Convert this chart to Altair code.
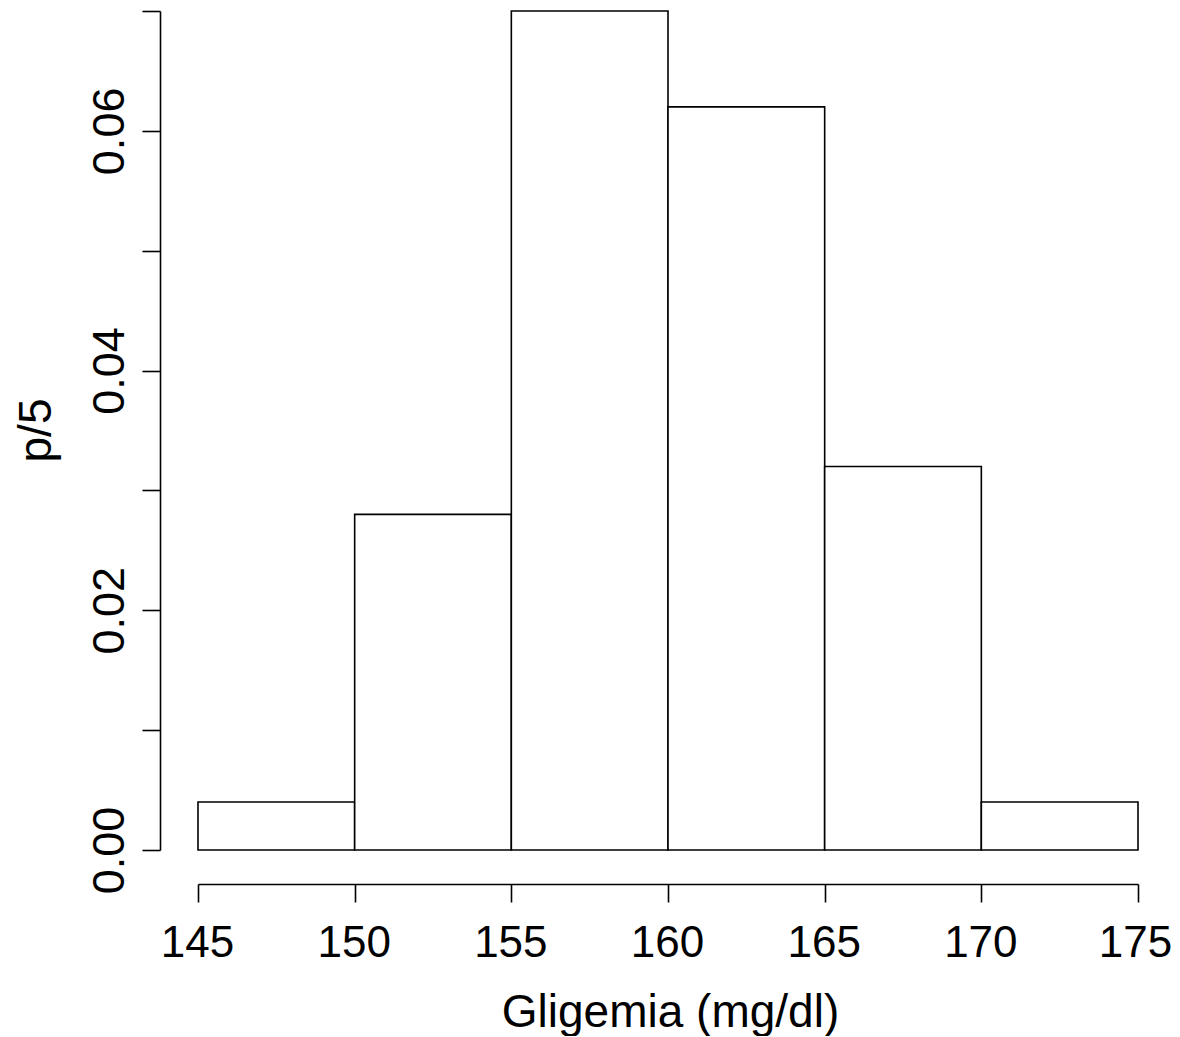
import altair as alt
import pandas as pd

bin_start = [145, 150, 155, 160, 165, 170]
bin_end = [150, 155, 160, 165, 170, 175]
density = [0.004, 0.028, 0.070, 0.062, 0.032, 0.004]
x_ticks = [145, 150, 155, 160, 165, 170, 175]
y_ticks = [0.00, 0.01, 0.02, 0.03, 0.04, 0.05, 0.06, 0.07]

df = pd.DataFrame({"x0": bin_start, "x1": bin_end, "d": density, "zero": [0] * len(density)})

FONT = "Liberation Sans"
FS = 46

chart = (
    alt.Chart(df)
    .mark_rect(fill="white", stroke="black", strokeWidth=1.6)
    .encode(
        x=alt.X(
            "x0:Q",
            scale=alt.Scale(domain=[145, 175], nice=False, zero=False),
            axis=alt.Axis(
                title="Gligemia (mg/dl)",
                values=x_ticks,
                format="d",
                offset=34,
                tickSize=18,
                tickWidth=1.6,
                tickColor="black",
                domainColor="black",
                domainWidth=1.6,
                grid=False,
                labelFont=FONT,
                labelFontSize=44,
                labelColor="black",
                labelBaseline="alphabetic",
                labelPadding=54,
                labelOffset={"condition": {"test": "datum.value >= 175", "value": -3}, "value": -1},
                labelFlush=False,
                labelOverlap=False,
                titleFont=FONT,
                titleFontSize=FS,
                titleFontWeight="normal",
                titleColor="black",
                titleBaseline="alphabetic",
                titleX=472,
                titleY=142,
            ),
        ),
        x2="x1:Q",
        y=alt.Y(
            "d:Q",
            scale=alt.Scale(domain=[0, 0.07], nice=False),
            axis=alt.Axis(
                title="p/5",
                values=y_ticks,
                labelExpr="round(datum.value*100) % 2 == 0 ? format(datum.value, '.2f') : ''",
                offset=38,
                tickSize=18,
                tickWidth=1.6,
                tickColor="black",
                domainColor="black",
                domainWidth=1.6,
                grid=False,
                labelFont=FONT,
                labelFontSize=45,
                labelColor="black",
                labelAngle=270,
                labelAlign="center",
                labelBaseline="alphabetic",
                labelPadding=19,
                labelFlush=False,
                labelOverlap=False,
                titleFont=FONT,
                titleFontSize=FS,
                titleFontWeight="normal",
                titleColor="black",
                titleAngle=270,
                titleBaseline="alphabetic",
                titleX=-110,
                titleY=419,
            ),
        ),
        y2="zero:Q",
    )
    .properties(
        width=940,
        height=839,
        autosize=alt.AutoSizeParams(type="none"),
        padding={"left": 190, "top": 3, "right": 34, "bottom": 186},
    )
    .configure_view(stroke=None)
)

chart.save("out.html", embed_options={"renderer": "svg", "actions": False})
